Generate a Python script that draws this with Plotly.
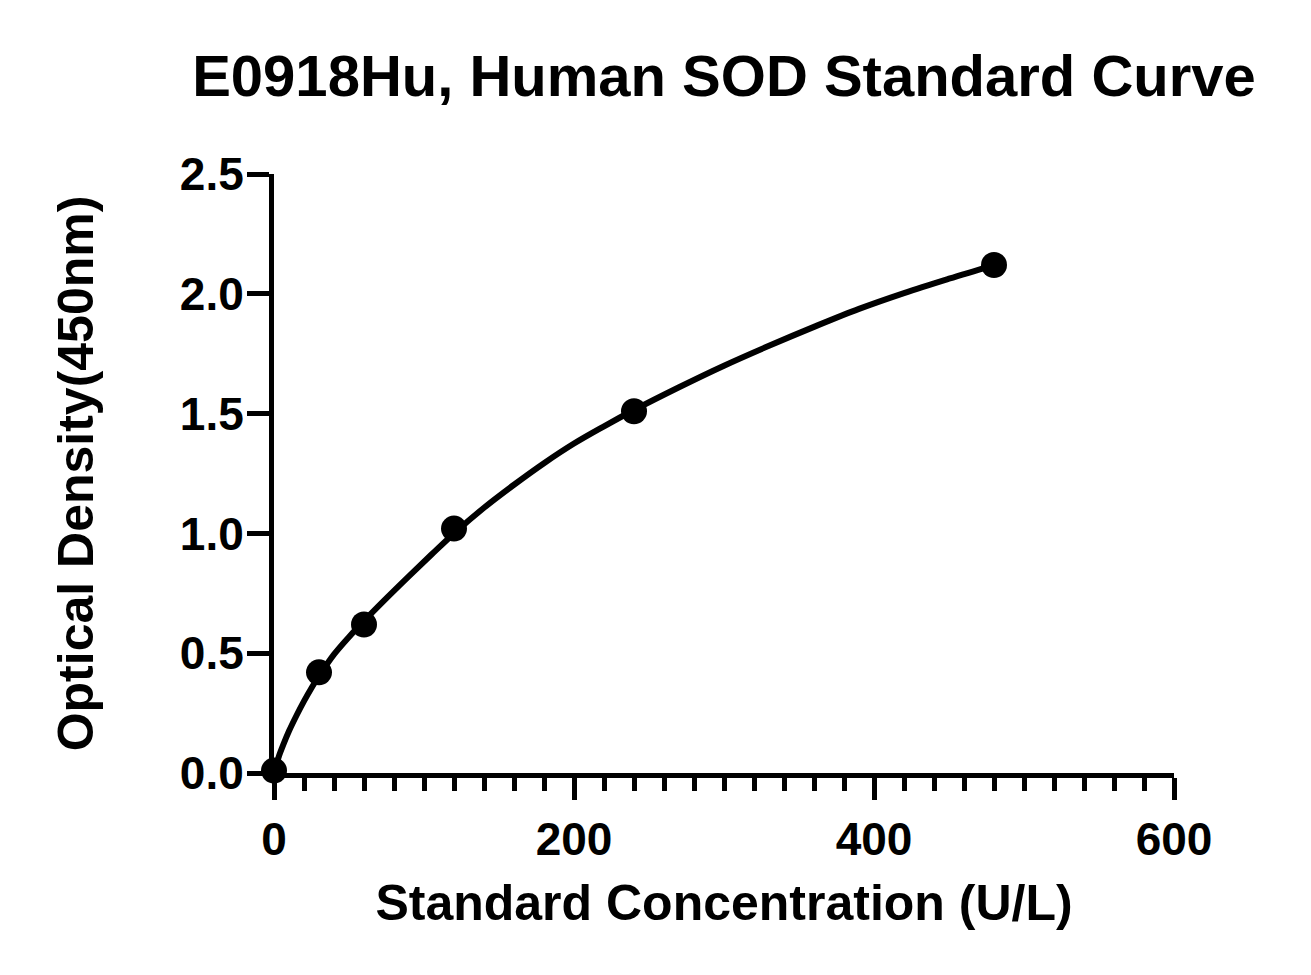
import plotly.graph_objects as go

# standard points
conc = [0, 30, 60, 120, 240, 480]
od = [0.01, 0.42, 0.62, 1.02, 1.51, 2.12]

# fitted curve
curve_x = [0, 3, 6, 10, 15, 20, 25, 30, 40, 50, 60, 75, 90, 105, 120, 140, 160, 180, 200, 220, 240,
           270, 300, 330, 360, 390, 420, 450, 480]
curve_y = [0.0, 0.065, 0.115, 0.175, 0.24, 0.30, 0.355, 0.405, 0.495, 0.568, 0.635, 0.73, 0.822, 0.912, 1.0,
           1.107, 1.203, 1.293, 1.375, 1.447, 1.515, 1.61, 1.70, 1.783, 1.862, 1.937, 2.003, 2.063, 2.12]

font_family = "Liberation Sans, Arial, sans-serif"

fig = go.Figure()
fig.add_trace(go.Scatter(x=curve_x, y=curve_y, mode="lines", line=dict(color="black", width=6, shape="spline"),
                         cliponaxis=False, showlegend=False, hoverinfo="skip"))
fig.add_trace(go.Scatter(x=conc, y=od, mode="markers", marker=dict(color="black", size=26),
                         cliponaxis=False, showlegend=False))

axis_common = dict(
    showline=True, linecolor="black", linewidth=5, mirror=False,
    ticks="outside", ticklen=22, tickwidth=5, tickcolor="black",
    showgrid=False, zeroline=False,
    tickfont=dict(family=font_family, size=46, color="black", weight="bold"),
)

# page body has an 8px margin, so the figure is a bit smaller than the window
fig.update_layout(
    width=1303, height=967,
    margin=dict(l=266, r=137, t=166, b=202),
    plot_bgcolor="white", paper_bgcolor="white",
    title=dict(text="<b>E0918Hu, Human SOD Standard Curve</b>", x=0.5, xref="paper", y=1 - 68 / 967,
               yref="container", xanchor="center", yanchor="middle",
               font=dict(family=font_family, size=58, color="black")),
    xaxis=dict(range=[0, 600], tickvals=[0, 200, 400, 600],
               minor=dict(dtick=20, ticks="outside", ticklen=13, tickwidth=5, tickcolor="black"),
               title=dict(text="<b>Standard Concentration (U/L)</b>", standoff=22,
                          font=dict(family=font_family, size=50, color="black")),
               **axis_common),
    yaxis=dict(range=[0, 2.5], tickvals=[0, 0.5, 1.0, 1.5, 2.0, 2.5], tickformat=".1f",
               ticklabelstandoff=-6,
               title=dict(text="<b>Optical Density(450nm)</b>", standoff=72,
                          font=dict(family=font_family, size=50, color="black")),
               **axis_common),
)

fig.write_html("out.html")
